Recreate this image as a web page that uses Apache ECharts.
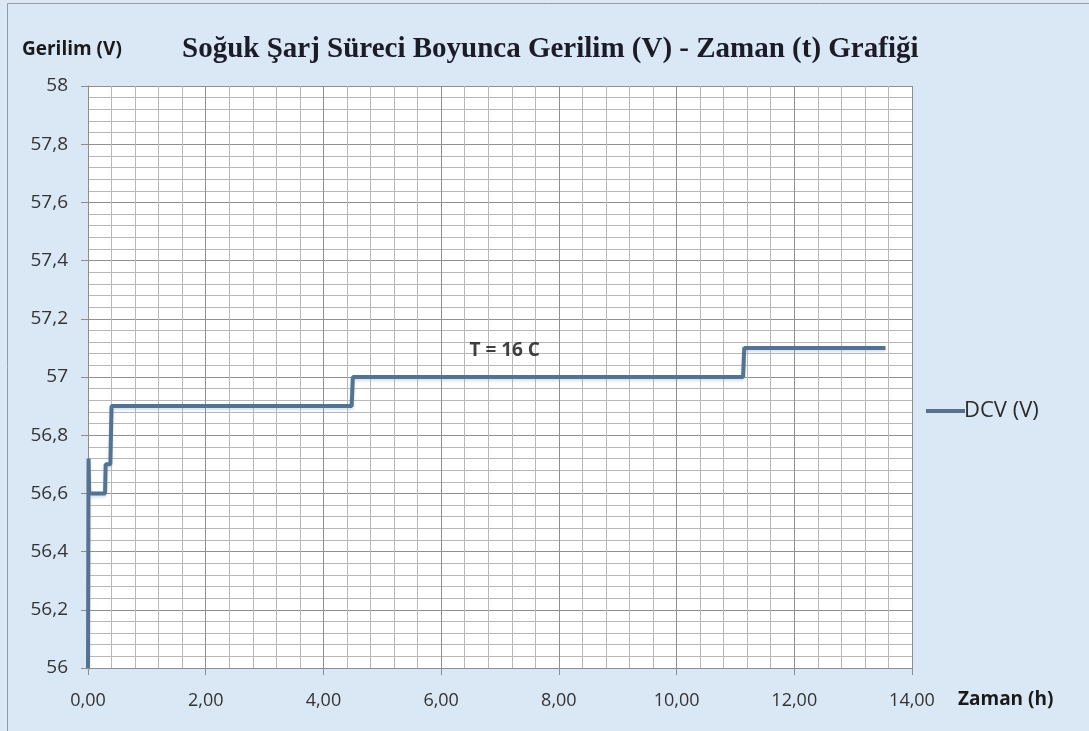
<!DOCTYPE html>
<html>
<head>
<meta charset="utf-8">
<script src="https://cdn.jsdelivr.net/npm/echarts@6/dist/echarts.min.js"></script>
<style>
  html, body { margin: 0; padding: 0; }
  #chart { width: 1089px; height: 731px; }
</style>
</head>
<body>
<div id="chart"></div>
<script>
// step readings (hours, volts)
var times = [0, 0.01, 0.02, 0.29, 0.3, 0.38, 0.4, 4.48, 4.5, 11.13, 11.15, 13.55];
var volts = [56, 56.72, 56.6, 56.6, 56.7, 56.7, 56.9, 56.9, 57.0, 57.0, 57.1, 57.1];
var seriesName = 'DCV (V)';
var note = { text: 'T = 16 C', t: 7.08, v: 57.09 };

var points = times.map(function (t, i) { return [t, volts[i]]; });

function comma(s) { return s.replace('.', ','); }

var chart = echarts.init(document.getElementById('chart'));
chart.setOption({
  backgroundColor: '#dae8f5',
  animation: false,
  title: {
    text: 'Soğuk Şarj Süreci Boyunca Gerilim (V) - Zaman (t) Grafiği',
    left: 177,
    top: 30,
    textStyle: {
      fontFamily: 'Liberation Serif',
      fontWeight: 'bold',
      fontSize: 29,
      color: '#1c1c28'
    }
  },
  legend: {
    data: [seriesName],
    left: 921,
    top: 395,
    icon: 'rect',
    itemWidth: 39,
    itemHeight: 4,
    itemGap: 2,
    textStyle: { fontFamily: 'Open Sans', fontSize: 22, color: '#2b2b2b', padding: [0, 0, 0, -6] }
  },
  grid: { left: 88, right: 177, top: 86, bottom: 63, backgroundColor: '#ffffff', show: true, borderWidth: 0 },
  xAxis: {
    type: 'value',
    min: 0,
    max: 14,
    interval: 2,
    axisLine: { show: true, lineStyle: { color: '#8c8c8c', width: 1 } },
    axisTick: { show: true, length: 7, inside: false, lineStyle: { color: '#8c8c8c' } },
    minorTick: { show: false, splitNumber: 5 },
    axisLabel: {
      margin: 24,
      fontFamily: 'Open Sans',
      fontSize: 18,
      color: '#333333',
      formatter: function (v) { return comma(v.toFixed(2)); }
    },
    splitLine: { show: true, lineStyle: { color: '#8f8f8f', width: 1 } },
    minorSplitLine: { show: true, lineStyle: { color: '#b8b8b8', width: 1 } }
  },
  yAxis: {
    type: 'value',
    min: 56,
    max: 58,
    interval: 0.2,
    axisLine: { show: true, lineStyle: { color: '#8c8c8c', width: 1 } },
    axisTick: { show: true, length: 7, lineStyle: { color: '#8c8c8c' } },
    minorTick: { show: false, splitNumber: 5 },
    axisLabel: {
      margin: 20,
      fontFamily: 'Open Sans',
      fontSize: 19,
      color: '#333333',
      formatter: function (v) { return comma(String(Math.round(v * 10) / 10)); }
    },
    splitLine: { show: true, lineStyle: { color: '#8f8f8f', width: 1 } },
    minorSplitLine: { show: true, lineStyle: { color: '#b8b8b8', width: 1 } }
  },
  graphic: [
    {
      type: 'rect',
      shape: { x: 7.5, y: 3.5, width: 1090, height: 740 },
      style: { fill: 'none', stroke: '#9a9a9a', lineWidth: 1 },
      silent: true
    },
    {
      type: 'text',
      left: 22,
      top: 40,
      style: { text: 'Gerilim (V)', font: 'bold 19px "Open Sans"', fill: '#1a1a1a' }
    },
    {
      type: 'text',
      left: 958,
      top: 690,
      style: { text: 'Zaman (h)', font: 'bold 19px "Open Sans"', fill: '#1a1a1a' }
    }
  ],
  series: [
    {
      name: seriesName,
      type: 'line',
      data: points,
      showSymbol: false,
      symbol: 'none',
      color: '#557391',
      lineStyle: {
        width: 4,
        color: '#557391',
        shadowColor: 'rgba(120,170,210,0.35)',
        shadowBlur: 3,
        shadowOffsetY: 2
      }
    },
    {
      name: 'note',
      type: 'scatter',
      data: [[note.t, note.v]],
      symbolSize: 0,
      silent: true,
      label: {
        show: true,
        position: 'inside',
        formatter: note.text,
        fontFamily: 'Open Sans',
        fontWeight: 'bold',
        fontSize: 19,
        color: '#111111'
      }
    }
  ]
});
</script>
</body>
</html>
